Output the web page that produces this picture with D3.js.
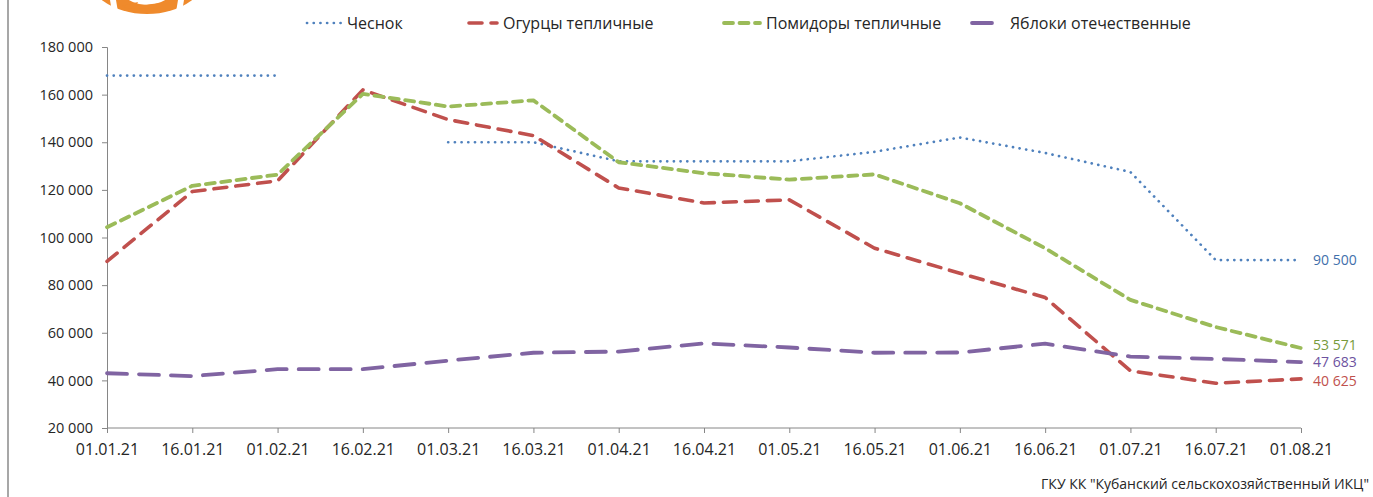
<!DOCTYPE html>
<html>
<head>
<meta charset="utf-8">
<script src="https://cdn.jsdelivr.net/npm/d3@7"></script>
<style>
  html, body { margin: 0; padding: 0; background: #fff; }
  svg { display: block; font-family: 'Open Sans', sans-serif; }
</style>
</head>
<body>
<div id="chart"></div>
<script>
const dates = ['01.01.21', '16.01.21', '01.02.21', '16.02.21', '01.03.21', '16.03.21', '01.04.21', '16.04.21',
  '01.05.21', '16.05.21', '01.06.21', '16.06.21', '01.07.21', '16.07.21', '01.08.21'];
const garlic = [168000, 168000, 168000, null, 140000, 140000, 132000, 132000, 132000, 136000, 142000, 135500, 127500, 90500, 90500];
const cucumbers = [90000, 119300, 123800, 162000, 149500, 142800, 120800, 114500, 115800, 95500, 85000, 74800, 44000, 38800, 40625];
const tomatoes = [104300, 121700, 126400, 160300, 155000, 157600, 131600, 127000, 124300, 126500, 114400, 95500, 73800, 62400, 53571];
const apples = [43000, 41800, 44700, 44700, 48300, 51600, 52100, 55500, 53800, 51600, 51700, 55400, 50000, 49000, 47683];
const yTicks = [20000, 40000, 60000, 80000, 100000, 120000, 140000, 160000, 180000];
const seriesNames = ['Чеснок', 'Огурцы тепличные', 'Помидоры тепличные', 'Яблоки отечественные'];
const sourceText = 'ГКУ КК "Кубанский сельскохозяйственный ИКЦ"';

const width = 1373, height = 497;

const series = [
  { name: seriesNames[0], values: garlic, color: '#4f81bd', labelColor: '#3f6fab', width: 2.7, dash: '0.1 6.6', cap: 'round', nudge: 0 },
  { name: seriesNames[1], values: cucumbers, color: '#c0504d', labelColor: '#c0504d', width: 3.6, dash: '13 9', cap: 'round', nudge: 2.5 },
  { name: seriesNames[2], values: tomatoes, color: '#9bbb59', labelColor: '#779a3c', width: 3.8, dash: '9 6.5', cap: 'round', nudge: -2.5 },
  { name: seriesNames[3], values: apples, color: '#8064a2', labelColor: '#6d52a0', width: 3.8, dash: '20 12', cap: 'round', nudge: 0.5 }
];

const locale = d3.formatLocale({ decimal: ',', thousands: '\u00a0', grouping: [3], currency: ['', ''] });
const fmt = locale.format(',d');

const svg = d3.select('#chart').append('svg')
  .attr('width', width)
  .attr('height', height);

// frame edge and cropped logo
svg.append('line')
  .attr('x1', 8).attr('x2', 8).attr('y1', 0).attr('y2', height)
  .attr('stroke', '#8a8a8a').attr('stroke-width', 1.5);

const logo = svg.append('g');
logo.append('ellipse')
  .attr('cx', 147).attr('cy', -32).attr('rx', 63).attr('ry', 46)
  .attr('fill', '#ef8a2c');
logo.append('ellipse')
  .attr('cx', 147).attr('cy', -34).attr('rx', 37).attr('ry', 39)
  .attr('fill', '#fff');
logo.append('path')
  .attr('d', 'M110,0 L116,0 L118,12 L112,12 Z M178,0 L184,0 L182,12 L176,12 Z')
  .attr('fill', '#fff');
logo.append('path')
  .attr('d', 'M122,6 L138,2 L136,6 L160,3 L158,8 L130,9 Z')
  .attr('fill', '#ef8a2c');

const x = d3.scalePoint()
  .domain(dates)
  .range([107, 1301]);

const y = d3.scaleLinear()
  .domain([20000, 180000])
  .range([428, 47]);

// y axis
const yAxis = svg.append('g')
  .attr('transform', 'translate(107,0)')
  .call(d3.axisLeft(y).tickValues(yTicks).tickSize(5).tickPadding(9).tickFormat(fmt));
yAxis.select('.domain').attr('stroke', '#868686');
yAxis.selectAll('.tick line').attr('stroke', '#868686');
yAxis.selectAll('.tick text')
  .attr('font-size', '14.5px')
  .attr('font-family', "'Open Sans', sans-serif")
  .attr('fill', '#262626');

// x axis
const xAxis = svg.append('g')
  .attr('transform', 'translate(0,428)')
  .call(d3.axisBottom(x).tickSize(5).tickPadding(11));
xAxis.select('.domain').attr('stroke', '#868686').attr('d', 'M107,0H1301');
xAxis.selectAll('.tick line').attr('stroke', '#868686');
xAxis.selectAll('.tick text')
  .attr('font-size', '16px')
  .attr('font-family', "'Open Sans', sans-serif")
  .attr('fill', '#262626');

// lines
const line = d3.line()
  .defined(d => d.v != null)
  .x(d => x(d.date))
  .y(d => y(d.v));

svg.append('g').selectAll('path')
  .data(series)
  .enter()
  .append('path')
  .attr('d', s => line(s.values.map((v, i) => ({ date: dates[i], v }))))
  .attr('fill', 'none')
  .attr('stroke', s => s.color)
  .attr('stroke-width', s => s.width)
  .attr('stroke-dasharray', s => s.dash)
  .attr('stroke-linecap', s => s.cap)
  .attr('stroke-linejoin', 'round');

// end labels
svg.append('g').selectAll('text')
  .data(series)
  .enter()
  .append('text')
  .attr('x', x(dates[dates.length - 1]) + 12)
  .attr('y', s => y(s.values[s.values.length - 1]) + s.nudge)
  .attr('dy', '0.35em')
  .attr('font-size', '14px')
  .attr('fill', s => s.labelColor)
  .text(s => fmt(s.values[s.values.length - 1]));

// legend
const legendPos = [
  { lx: 307, tx: 347 },
  { lx: 469, tx: 503 },
  { lx: 724, tx: 766 },
  { lx: 972, tx: 1010 }
];
const legend = svg.append('g').selectAll('g')
  .data(series)
  .enter()
  .append('g');
legend.append('line')
  .attr('x1', (s, i) => legendPos[i].lx)
  .attr('x2', (s, i) => legendPos[i].tx - 6)
  .attr('y1', 23).attr('y2', 23)
  .attr('stroke', s => s.color)
  .attr('stroke-width', s => s.width)
  .attr('stroke-dasharray', s => s.dash)
  .attr('stroke-linecap', s => s.cap);
legend.append('text')
  .attr('x', (s, i) => legendPos[i].tx)
  .attr('y', 23)
  .attr('dy', '0.35em')
  .attr('font-size', '16px')
  .attr('fill', '#262626')
  .text(s => s.name);

// source
svg.append('text')
  .attr('x', 1369)
  .attr('y', 484)
  .attr('dy', '0.35em')
  .attr('text-anchor', 'end')
  .attr('font-size', '14px')
  .attr('fill', '#262626')
  .text(sourceText);
</script>
</body>
</html>
